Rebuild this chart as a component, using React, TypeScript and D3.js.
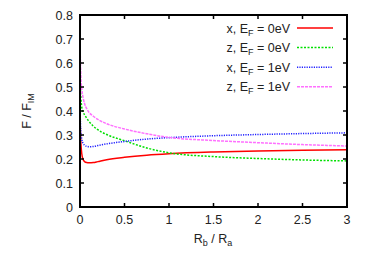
import React from "react";
import * as d3 from "d3";

const xs = [0, 0.005, 0.01, 0.02, 0.035, 0.05, 0.075, 0.1, 0.15, 0.2, 0.3, 0.5, 0.75, 1, 1.5, 2, 2.5, 3];
const redX0 = [0.38, 0.31, 0.265, 0.222, 0.198, 0.19, 0.185, 0.184, 0.185, 0.189, 0.197, 0.207, 0.216, 0.222, 0.229, 0.233, 0.236, 0.239];
const greenZ0 = [0.55, 0.49, 0.455, 0.415, 0.395, 0.385, 0.37, 0.357, 0.337, 0.322, 0.302, 0.276, 0.246, 0.226, 0.21, 0.202, 0.196, 0.192];
const blueX1 = [0.42, 0.35, 0.315, 0.282, 0.265, 0.258, 0.253, 0.251, 0.252, 0.256, 0.263, 0.273, 0.283, 0.289, 0.297, 0.302, 0.306, 0.309];
const pinkZ1 = [0.7, 0.6, 0.54, 0.49, 0.455, 0.432, 0.41, 0.395, 0.378, 0.365, 0.347, 0.325, 0.305, 0.29, 0.277, 0.268, 0.26, 0.254];

const xTicks = [0, 0.5, 1, 1.5, 2, 2.5, 3];
const yTicks = [0, 0.1, 0.2, 0.3, 0.4, 0.5, 0.6, 0.7, 0.8];

const series = [
  { name: "x", ef: "0eV", values: redX0, color: "#ff0000", dash: "" },
  { name: "z", ef: "0eV", values: greenZ0, color: "#00e000", dash: "2,1.5" },
  { name: "x", ef: "1eV", values: blueX1, color: "#2020ff", dash: "1.2,1.2" },
  { name: "z", ef: "1eV", values: pinkZ1, color: "#ff70ff", dash: "3,1" },
];

export default function App() {
  const W = 374, H = 262;
  const L = 80, R = 347, T = 15, B = 207;
  const x = d3.scaleLinear().domain([0, 3]).range([L, R]);
  const y = d3.scaleLinear().domain([0, 0.8]).range([B, T]);
  const line = d3
    .line<number>()
    .x((_, i) => x(xs[i]))
    .y((d) => y(d))
    .curve(d3.curveMonotoneX);
  const font = "Liberation Sans, Arial, sans-serif";
  const fs = 12.5;
  const sub = 9;
  return (
    <svg width={W} height={H} style={{ position: "absolute", left: 0, top: 0, background: "#fff" }} fontFamily={font}>
      <defs>
        <clipPath id="clip">
          <rect x={L} y={T} width={R - L} height={B - T} />
        </clipPath>
      </defs>
      <g clipPath="url(#clip)">
        {series.map((s, i) => (
          <path key={i} d={line(s.values) || ""} fill="none" stroke={s.color} strokeWidth={1.5} strokeDasharray={s.dash} />
        ))}
      </g>
      {xTicks.map((t) => (
        <g key={"x" + t}>
          <line x1={x(t)} x2={x(t)} y1={B} y2={B - 4} stroke="#000" strokeWidth={1.5} />
          <line x1={x(t)} x2={x(t)} y1={T} y2={T + 4} stroke="#000" strokeWidth={1.5} />
          <text x={x(t)} y={B + 17} textAnchor="middle" fontSize={fs} fill="#222">{t}</text>
        </g>
      ))}
      {yTicks.map((t) => (
        <g key={"y" + t}>
          <line x1={L} x2={L + 4} y1={y(t)} y2={y(t)} stroke="#000" strokeWidth={1.5} />
          <line x1={R} x2={R - 4} y1={y(t)} y2={y(t)} stroke="#000" strokeWidth={1.5} />
          <text x={L - 7} y={y(t) + 4.5} textAnchor="end" fontSize={fs} fill="#222">{t}</text>
        </g>
      ))}
      <rect x={L} y={T} width={R - L} height={B - T} fill="none" stroke="#000" strokeWidth={2} />
      {series.map((s, i) => {
        const ly = 28 + i * 19.6;
        return (
          <g key={"l" + i}>
            <text x={290} y={ly + 4.5} textAnchor="end" fontSize={fs} fill="#222">
              {s.name}, E<tspan fontSize={sub} dy={3}>F</tspan><tspan dy={-3}> = {s.ef}</tspan>
            </text>
            <line x1={297} x2={333} y1={ly} y2={ly} stroke={s.color} strokeWidth={1.5} strokeDasharray={s.dash} />
          </g>
        );
      })}
      <text x={213} y={243} textAnchor="middle" fontSize={fs} fill="#222">
        R<tspan fontSize={sub} dy={3}>b</tspan><tspan dy={-3}> / R</tspan><tspan fontSize={sub} dy={3}>a</tspan>
      </text>
      <text transform="translate(31,111) rotate(-90)" textAnchor="middle" fontSize={fs} fill="#222">
        F / F<tspan fontSize={sub} dy={3}>IM</tspan>
      </text>
    </svg>
  );
}
